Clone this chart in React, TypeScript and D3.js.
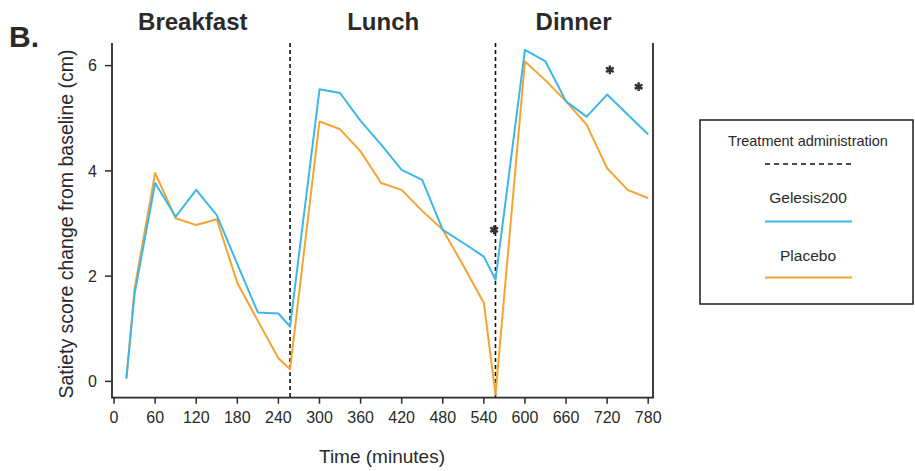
import React from "react";
import * as d3 from "d3";

const times = [18, 30, 60, 90, 120, 150, 180, 210, 240, 257, 300, 330, 360, 390, 420, 450, 480, 510, 540, 557, 600, 630, 660, 690, 720, 750, 780];
const gelesis = [0.06, 1.67, 3.77, 3.13, 3.64, 3.16, 2.23, 1.31, 1.29, 1.04, 5.55, 5.48, 4.95, 4.5, 4.02, 3.83, 2.88, 2.63, 2.37, 1.93, 6.3, 6.08, 5.32, 5.03, 5.45, 5.07, 4.69];
const placebo = [0.05, 1.77, 3.96, 3.1, 2.97, 3.08, 1.87, 1.15, 0.44, 0.23, 4.94, 4.79, 4.37, 3.77, 3.64, 3.24, 2.88, 2.2, 1.49, -0.25, 6.08, 5.72, 5.32, 4.88, 4.05, 3.64, 3.48];
const administrationTimes = [257, 557];
const mealLabels = ["Breakfast", "Lunch", "Dinner"];
const mealLabelTimes = [115, 393, 671];
const asteriskTimes = [555, 724, 766];
const asteriskValues = [2.88, 5.92, 5.6];
const xTicks = [0, 60, 120, 180, 240, 300, 360, 420, 480, 540, 600, 660, 720, 780];
const yTicks = [0, 2, 4, 6];
const seriesNames = ["Gelesis200", "Placebo"];

const BLUE = "#3db7e8";
const ORANGE = "#f6a431";
const AXIS = "#2a2a2a";
const FONT = "'Liberation Sans', Arial, sans-serif";

export default function App() {
  const x = d3.scaleLinear().domain([-3, 787]).range([112, 653]);
  const y = d3.scaleLinear().domain([-0.31, 6.43]).range([397.7, 43]);
  const line = d3
    .line<number>()
    .x((_, i) => x(times[i]))
    .y((d) => y(d));
  const star = d3.symbol().type(d3.symbolAsterisk).size(55)();
  const [x0, x1] = x.range();
  const [yb, yt] = y.range();

  return (
    <div style={{ position: "absolute", left: 0, top: 0 }}>
      <svg width={915} height={471} style={{ display: "block", fontFamily: FONT }}>
        <rect width={915} height={471} fill="#fff" />
        <text x={9} y={47} fontSize={30} fontWeight="bold" fill={AXIS}>B.</text>
        {mealLabels.map((m, i) => (
          <text key={m} x={x(mealLabelTimes[i])} y={30} fontSize={24} fontWeight="bold" textAnchor="middle" fill={AXIS}>
            {m}
          </text>
        ))}
        {/* axes frame */}
        <line x1={x0} x2={x0} y1={yt} y2={yb} stroke={AXIS} strokeWidth={1.8} />
        <line x1={x1} x2={x1} y1={yt} y2={yb} stroke={AXIS} strokeWidth={1.8} />
        <line x1={x0 - 0.9} x2={x1 + 0.9} y1={yb} y2={yb} stroke={AXIS} strokeWidth={1.8} />
        {xTicks.map((t) => (
          <g key={t}>
            <line x1={x(t)} x2={x(t)} y1={yb} y2={yb + 6} stroke={AXIS} strokeWidth={1.5} />
            <text x={x(t)} y={422.5} fontSize={16} textAnchor="middle" fill={AXIS}>{t}</text>
          </g>
        ))}
        {yTicks.map((v) => (
          <g key={v}>
            <line x1={x0 - 7} x2={x0} y1={y(v)} y2={y(v)} stroke={AXIS} strokeWidth={1.5} />
            <text x={97} y={y(v) + 5.8} fontSize={16} textAnchor="end" fill={AXIS}>{v}</text>
          </g>
        ))}
        <text transform="translate(72.5,224) rotate(-90)" fontSize={19.5} textAnchor="middle" fill={AXIS}>
          Satiety score change from baseline (cm)
        </text>
        <text x={382} y={463} fontSize={19} textAnchor="middle" fill={AXIS}>Time (minutes)</text>
        {administrationTimes.map((t) => (
          <line key={t} x1={x(t)} x2={x(t)} y1={yt} y2={yb} stroke="#111" strokeWidth={1.6} strokeDasharray="4,3" />
        ))}
        <path d={line(placebo) || ""} fill="none" stroke={ORANGE} strokeWidth={2} strokeLinejoin="round" />
        <path d={line(gelesis) || ""} fill="none" stroke={BLUE} strokeWidth={2} strokeLinejoin="round" />
        {asteriskTimes.map((t, i) => (
          <path key={t} d={star || ""} transform={`translate(${x(t)},${y(asteriskValues[i])})`} fill="none" stroke="#333" strokeWidth={2.4} />
        ))}
        {/* legend */}
        <rect x={700} y={120} width={213} height={184} fill="#fff" stroke={AXIS} strokeWidth={1.6} />
        <text x={808} y={146} fontSize={14.5} textAnchor="middle" fill={AXIS}>Treatment administration</text>
        <line x1={765} x2={852} y1={164} y2={164} stroke="#111" strokeWidth={1.5} strokeDasharray="5,4" />
        <text x={808} y={203} fontSize={15.5} textAnchor="middle" fill={AXIS}>{seriesNames[0]}</text>
        <line x1={765} x2={852} y1={221.5} y2={221.5} stroke={BLUE} strokeWidth={2} />
        <text x={808} y={261} fontSize={15.5} textAnchor="middle" fill={AXIS}>{seriesNames[1]}</text>
        <line x1={765} x2={852} y1={277.5} y2={277.5} stroke={ORANGE} strokeWidth={2} />
      </svg>
    </div>
  );
}
